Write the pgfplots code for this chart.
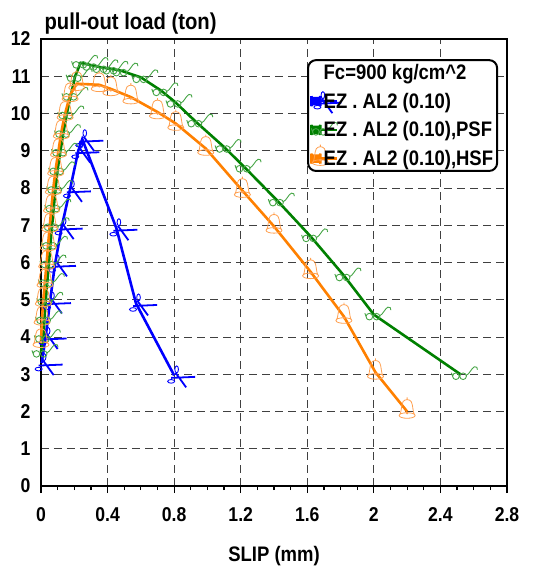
\documentclass[border=0pt]{standalone}
\usepackage{fontspec}
\setmainfont{Liberation Sans}[FakeStretch=0.88]
\usepackage{pgfplots}
\pgfplotsset{compat=1.18}
\usetikzlibrary{calc}

\definecolor{cblue}{RGB}{0,0,255}
\definecolor{cgreen}{RGB}{0,128,0}
\definecolor{cgreenm}{RGB}{70,165,70}
\definecolor{corange}{RGB}{255,128,0}
\definecolor{corangem}{RGB}{255,160,80}

\pgfdeclareplotmark{scissors}{%
  \pgfsetlinewidth{1.8bp}%
  \pgfpathmoveto{\pgfpoint{-3bp}{-2.5bp}}\pgfpathlineto{\pgfpoint{21bp}{-1.5bp}}%
  \pgfpathmoveto{\pgfpoint{1.5bp}{2.5bp}}\pgfpathlineto{\pgfpoint{12bp}{-12bp}}%
  \pgfusepathqstroke
  \pgfsetlinewidth{0.9bp}%
  \pgfpathellipse{\pgfpoint{2.5bp}{6bp}}{\pgfpoint{1.8bp}{0bp}}{\pgfpoint{0bp}{3.5bp}}%
  \pgfpathellipse{\pgfpoint{-3bp}{-6bp}}{\pgfpoint{3.5bp}{0bp}}{\pgfpoint{0bp}{1.8bp}}%
  \pgfusepathqstroke
}
\pgfdeclareplotmark{glasses}{%
  \pgfsetlinewidth{0.9bp}%
  \pgfpathcircle{\pgfpoint{-4.5bp}{-2bp}}{3.3bp}%
  \pgfpathcircle{\pgfpoint{2.7bp}{-2bp}}{3.3bp}%
  \pgfpathmoveto{\pgfpoint{6bp}{-1bp}}%
  \pgfpathcurveto{\pgfpoint{9bp}{0bp}}{\pgfpoint{11bp}{6bp}}{\pgfpoint{14bp}{7.5bp}}%
  \pgfpathcurveto{\pgfpoint{16bp}{8bp}}{\pgfpoint{17.5bp}{6.5bp}}{\pgfpoint{17bp}{4.5bp}}%
  \pgfpathmoveto{\pgfpoint{-7.8bp}{-2bp}}\pgfpathlineto{\pgfpoint{-9bp}{1.5bp}}%
  \pgfusepathqstroke
}
\pgfdeclareplotmark{bell}{%
  \pgfsetlinewidth{0.8bp}%
  \pgfpathmoveto{\pgfpoint{-7.5bp}{-3.5bp}}%
  \pgfpathcurveto{\pgfpoint{-5.5bp}{-1bp}}{\pgfpoint{-6bp}{7bp}}{\pgfpoint{-4bp}{10bp}}%
  \pgfpathcurveto{\pgfpoint{-2bp}{12.5bp}}{\pgfpoint{2bp}{12.5bp}}{\pgfpoint{4bp}{10bp}}%
  \pgfpathcurveto{\pgfpoint{6bp}{7bp}}{\pgfpoint{5.5bp}{-1bp}}{\pgfpoint{7.5bp}{-3.5bp}}%
  \pgfpathellipse{\pgfpoint{0bp}{-4bp}}{\pgfpoint{8bp}{0bp}}{\pgfpoint{0bp}{2.8bp}}%
  \pgfpathmoveto{\pgfpoint{0bp}{11.8bp}}\pgfpathlineto{\pgfpoint{0bp}{14bp}}%
  \pgfusepathqstroke
  \pgfpathcircle{\pgfpoint{0bp}{-1.5bp}}{1.4bp}%
  \pgfusepathqfill
}

\begin{document}
\begin{tikzpicture}
\begin{axis}[
  name=a,
  scale only axis, width=466bp, height=447bp,
  xmin=0, xmax=2.8, ymin=0, ymax=12,
  xtick={0,0.4,0.8,1.2,1.6,2,2.4,2.8},
  ytick={0,1,2,3,4,5,6,7,8,9,10,11,12},
  minor x tick num=3,
  xtick pos=bottom, ytick pos=left,
  tick align=outside,
  major tick length=7bp, minor tick length=4bp,
  every tick/.style={black, line width=1.2bp},
  ytick style={draw=none},
  axis line style={line width=2.5bp},
  grid=major,
  major grid style={black!75, line width=0.9bp, dash pattern=on 8bp off 5bp},
  tick label style={font=\bfseries\fontsize{20bp}{24bp}\selectfont},
  xticklabel style={yshift=-11bp},
  /pgf/number format/assume math mode=true,
  xlabel={SLIP (mm)},
  xlabel style={font=\bfseries\fontsize{21bp}{25bp}\selectfont, at={(axis description cs:0.5,0)}, anchor=base, yshift=-75bp},
  ylabel={pull-out load (ton)},
  every axis y label/.style={at={(axis description cs:0,1)}, anchor=base west, yshift=9bp, font=\bfseries\fontsize{23bp}{27bp}\selectfont},
  clip=false,
  legend style={at={(0.571,0.955)}, anchor=north west, draw=black, line width=2bp, rounded corners=8bp, fill=white,
    font=\bfseries\fontsize{21bp}{25bp}\selectfont, row sep=8bp, inner xsep=2bp, inner ysep=2bp,
    nodes={inner sep=2bp}},
  legend cell align=left,
  legend image code/.code={%
    \path[use as bounding box] (0bp,-3bp) rectangle (9bp,3bp);
    \draw[mark repeat=4,mark phase=2,#1] plot coordinates {(0bp,0bp) (9bp,0bp) (18bp,0bp) (26bp,0bp)};},
]
\addlegendimage{empty legend}
\addlegendentry{Fc=900 kg/cm\textasciicircum{}2}

\addplot[cblue, line width=2.6bp, mark=scissors, mark options={draw=cblue, solid}] coordinates {
(0.004,3.3) (0.028,4.0) (0.054,4.95) (0.084,5.95) (0.124,6.95) (0.174,7.95) (0.224,9.0) (0.248,9.31) (0.453,6.92) (0.571,4.9) (0.80,2.97)
};
\addlegendentry{EZ . AL2 (0.10)}

\addplot[cgreen, line width=2.6bp, mark=glasses, mark options={draw=cgreenm, solid}] coordinates {
(0.0,3.6) (0.014,4.0) (0.021,4.5) (0.029,5.0) (0.038,5.5) (0.048,6.0) (0.057,6.5) (0.067,7.0) (0.077,7.5) (0.088,8.0) (0.1,8.5) (0.117,9.0) (0.135,9.5) (0.155,10.0) (0.18,10.5) (0.205,11.0) (0.238,11.36) (0.3,11.3) (0.36,11.24) (0.42,11.2) (0.48,11.15) (0.6,10.97) (0.72,10.62) (0.805,10.31) (0.93,9.78) (1.1,9.1) (1.22,8.57) (1.42,7.66) (1.62,6.7) (1.82,5.65) (2.0,4.6) (2.52,3.0)
};
\addlegendentry{EZ . AL2 (0.10),PSF}

\addplot[corange, line width=2.6bp, mark=bell, mark options={draw=corangem, fill=corangem, solid}] coordinates {
(0.0,3.9) (0.006,4.5) (0.014,5.0) (0.024,5.5) (0.034,6.0) (0.043,6.5) (0.053,7.0) (0.063,7.5) (0.074,8.0) (0.088,8.5) (0.105,9.0) (0.122,9.5) (0.145,10.0) (0.175,10.5) (0.215,10.8) (0.35,10.77) (0.42,10.66) (0.54,10.44) (0.7,10.04) (0.81,9.73) (0.99,9.06) (1.21,7.93) (1.40,6.97) (1.62,5.75) (1.82,4.55) (2.01,3.05) (2.2,2.0)
};
\addlegendentry{EZ . AL2 (0.10),HSF}
\end{axis}
\pgfresetboundingbox
\path ($(a.south west)+(-41bp,-80bp)$) rectangle ($(a.north east)+(32bp,39bp)$);
\end{tikzpicture}
\end{document}
